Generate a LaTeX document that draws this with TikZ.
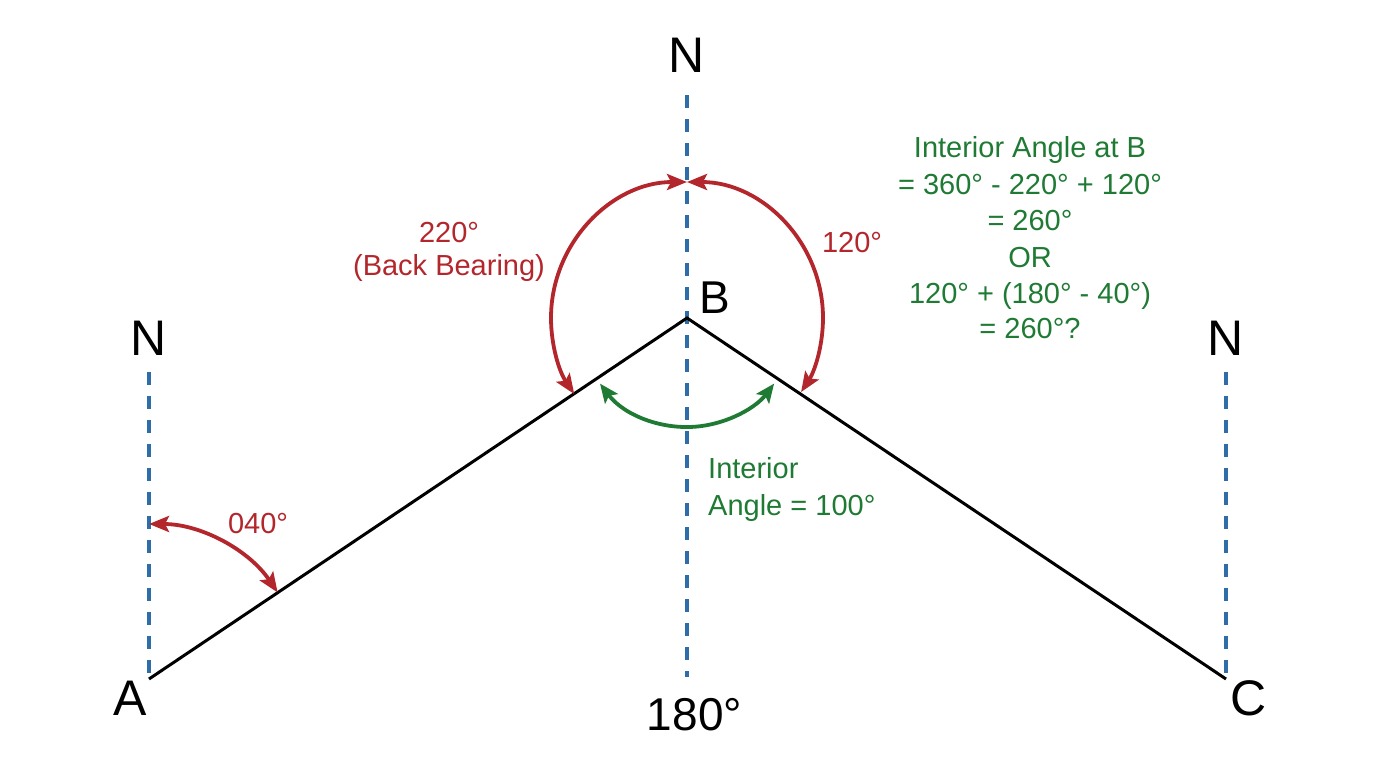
\documentclass[tikz,border=0pt]{standalone}
\usepackage{fontspec}
\setmainfont{Liberation Sans}
\usetikzlibrary{arrows.meta}
\definecolor{rd}{HTML}{B3262C}
\definecolor{gn}{HTML}{1F7A34}
\definecolor{bl}{HTML}{2E6DA8}
\begin{document}
\begin{tikzpicture}[x=1pt,y=-1pt,
  northline/.style={bl, line width=3.2pt, dash pattern=on 13pt off 11pt},
  leg/.style={black, line width=3pt, line join=miter},
  redarc/.style={rd, line width=3.8pt, {Stealth[length=20pt,width=16pt,inset=4pt]}-{Stealth[length=20pt,width=16pt,inset=4pt]}},
  greenarc/.style={gn, line width=3.8pt, {Stealth[length=19pt,width=16pt,inset=4pt]}-{Stealth[length=19pt,width=16pt,inset=4pt]}},
  big/.style={font=\fontsize{50}{50}\selectfont, inner sep=0pt, anchor=base},
  mid/.style={font=\fontsize{46}{46}\selectfont, inner sep=0pt, anchor=base},
  small/.style={font=\fontsize{29}{29}\selectfont, inner sep=0pt, anchor=base},
]
\useasboundingbox (0,0) rectangle (1376,768);
% points
\coordinate (A) at (149,679);
\coordinate (B) at (687,318);
\coordinate (C) at (1226,679);
\coordinate (NAt) at (149,372);
\coordinate (NCt) at (1226,372);
\coordinate (NBt) at (687,95);
\coordinate (NBb) at (687,677);
\coordinate (a40) at (149,524);
\coordinate (btop) at (687,182);
\coordinate (gl) at (600,383.6);
% north lines
\draw[northline] (NAt) -- (A);
\draw[northline] (NCt) -- (C);
\draw[northline] (NBt) -- (NBb);
% legs
\draw[leg] (A) -- (B) -- (C);
% arcs
\draw[redarc] (a40) arc[start angle=-90, end angle=-33.9, radius=155];
\draw[redarc] (btop) arc[start angle=-90, end angle=-214, radius=136];
\draw[redarc] (btop) arc[start angle=-90, end angle=33, radius=136];
\draw[greenarc] (gl) arc[start angle=143, end angle=37, radius=109];
% labels
\node[big] (nB) at (687,73) {N};
\node[big] (nA) at (149,355) {N};
\node[big] (nC) at (1226,355) {N};
\node[big] (lA) at (130,715) {A};
\node[big] (lC) at (1249,715) {C};
\node[mid] (lB) at (715,313) {B};
\node[mid] (l180) at (694.5,730) {180°};
\node[small, rd] (t220) at (449,242) {220°};
\node[small, rd] (tbb) at (449,275) {(Back Bearing)};
\node[small, rd] (t120) at (852,252) {120°};
\node[small, rd] (t040) at (258,533) {040°};
\node[small, gn, anchor=base west] (int1) at (708,478) {Interior};
\node[small, gn, anchor=base west] (int2) at (708,515) {Angle = 100°};
\node[small, gn] (g1) at (1030,157) {Interior Angle at B};
\node[small, gn] (g2) at (1030,194) {= 360° - 220° + 120°};
\node[small, gn] (g3) at (1030,230) {= 260°};
\node[small, gn] (g4) at (1030,267) {OR};
\node[small, gn] (g5) at (1030,303) {120° + (180° - 40°)};
\node[small, gn] (g6) at (1030,338) {= 260°?};
\end{tikzpicture}
\end{document}
